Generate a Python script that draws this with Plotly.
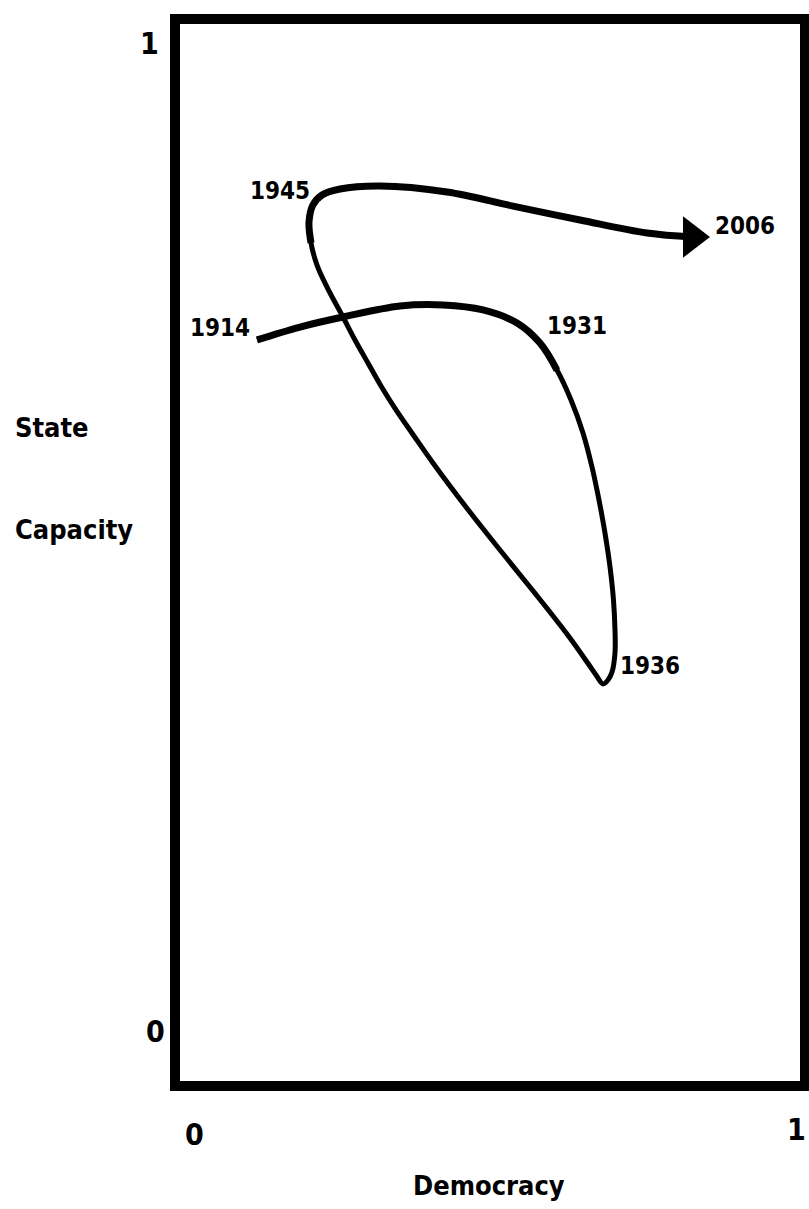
import plotly.graph_objects as go

# Path of the country through (Democracy, State Capacity) space:
# 1914 -> 1931 -> 1936 -> 1945 -> 2006
democracy = [0.1302, 0.1984, 0.2667, 0.3571, 0.4254, 0.4889, 0.5429, 0.5794,   # 1914 .. 1931
             0.6063, 0.6286, 0.6476, 0.6619, 0.6730, 0.6825, 0.6905, 0.6960,
             0.6984, 0.6984, 0.6937, 0.6873, 0.6794,                           # .. 1936
             0.6683, 0.6540, 0.6222, 0.5698, 0.5159, 0.4619, 0.4095, 0.3794,
             0.3508, 0.3270, 0.3063, 0.2857, 0.2667, 0.2413, 0.2254, 0.2159,
             0.2127,                                                           # .. 1945
             0.2190, 0.2333, 0.2619, 0.3254, 0.4317, 0.5365, 0.6429, 0.7492,
             0.8206]                                                           # .. 2006
capacity = [0.6992, 0.7113, 0.7207, 0.7310, 0.7320, 0.7273, 0.7151, 0.6963,
            0.6710, 0.6429, 0.6120, 0.5801, 0.5492, 0.5183, 0.4864, 0.4555,
            0.4274, 0.4058, 0.3880, 0.3805, 0.3768,
            0.3852, 0.3974, 0.4236, 0.4630, 0.5023, 0.5426, 0.5839, 0.6092,
            0.6336, 0.6560, 0.6776, 0.6992, 0.7207, 0.7488, 0.7694, 0.7901,
            0.8097,
            0.8257, 0.8351, 0.8407, 0.8435, 0.8379, 0.8247, 0.8116, 0.7994,
            0.7957]

# index ranges drawn with the heavier stroke
thick_1914_1931 = (0, 9)
thick_1945_2006 = (36, len(democracy))

year_labels = ["1914", "1931", "1936", "1945", "2006"]
label_dem = [0.122, 0.587, 0.703, 0.2175, 0.854]
label_cap = [0.710, 0.712, 0.394, 0.839, 0.806]
label_anchor = ["right", "left", "left", "right", "left"]

tick_labels = ["0", "1"]
x_title = "Democracy"
y_title = ["State", "Capacity"]

FONT = "DejaVu Sans Condensed, DejaVu Sans, sans-serif"

fig = go.Figure()
fig.add_trace(go.Scatter(x=democracy, y=capacity, mode="lines",
                         line=dict(color="black", width=5, shape="spline", smoothing=1.0),
                         hoverinfo="skip"))
for a, b in (thick_1914_1931, thick_1945_2006):
    fig.add_trace(go.Scatter(x=democracy[a:b], y=capacity[a:b], mode="lines",
                             line=dict(color="black", width=7, shape="spline", smoothing=1.0),
                             hoverinfo="skip"))
fig.add_trace(go.Scatter(x=democracy[-1:], y=capacity[-1:], mode="markers",
                         marker=dict(symbol="triangle-right", size=36, color="black",
                                     line=dict(width=0)),
                         hoverinfo="skip"))

annotations = []
for t, x, y, a in zip(year_labels, label_dem, label_cap, label_anchor):
    annotations.append(dict(x=x, y=y, xref="x", yref="y", text="<b>%s</b>" % t,
                            showarrow=False, xanchor=a, yanchor="middle",
                            font=dict(family=FONT, size=24, color="black")))

def paper_text(text, x, y, anchor="center", size=27):
    return dict(x=x, y=y, xref="paper", yref="paper", text="<b>%s</b>" % text,
                showarrow=False, xanchor=anchor, yanchor="middle",
                font=dict(family=FONT, size=size, color="black"))

annotations += [
    paper_text(tick_labels[1], -0.0397, 0.9775, size=30),
    paper_text(tick_labels[0], -0.0317, 0.0515, size=30),
    paper_text(tick_labels[0], 0.0317, -0.0459, size=30),
    paper_text(tick_labels[1], 0.987, -0.0412, size=30),
    paper_text(x_title, 0.498, -0.0928),
    paper_text(y_title[0], -0.257, 0.617, "left"),
    paper_text(y_title[1], -0.257, 0.522, "left"),
]

fig.update_layout(
    width=809, height=1209,
    margin=dict(l=175, r=4, t=19, b=123),
    paper_bgcolor="white", plot_bgcolor="white",
    showlegend=False,
    xaxis=dict(range=[0, 1], visible=False, fixedrange=True),
    yaxis=dict(range=[0, 1], visible=False, fixedrange=True),
    annotations=annotations,
    shapes=[dict(type="rect", xref="paper", yref="paper", x0=0, y0=0, x1=1, y1=1,
                 line=dict(color="black", width=10), layer="above")],
)

fig.write_html("out.html", config={"displayModeBar": False},
               post_script="document.body.style.margin='0';document.body.style.overflow='hidden';")
